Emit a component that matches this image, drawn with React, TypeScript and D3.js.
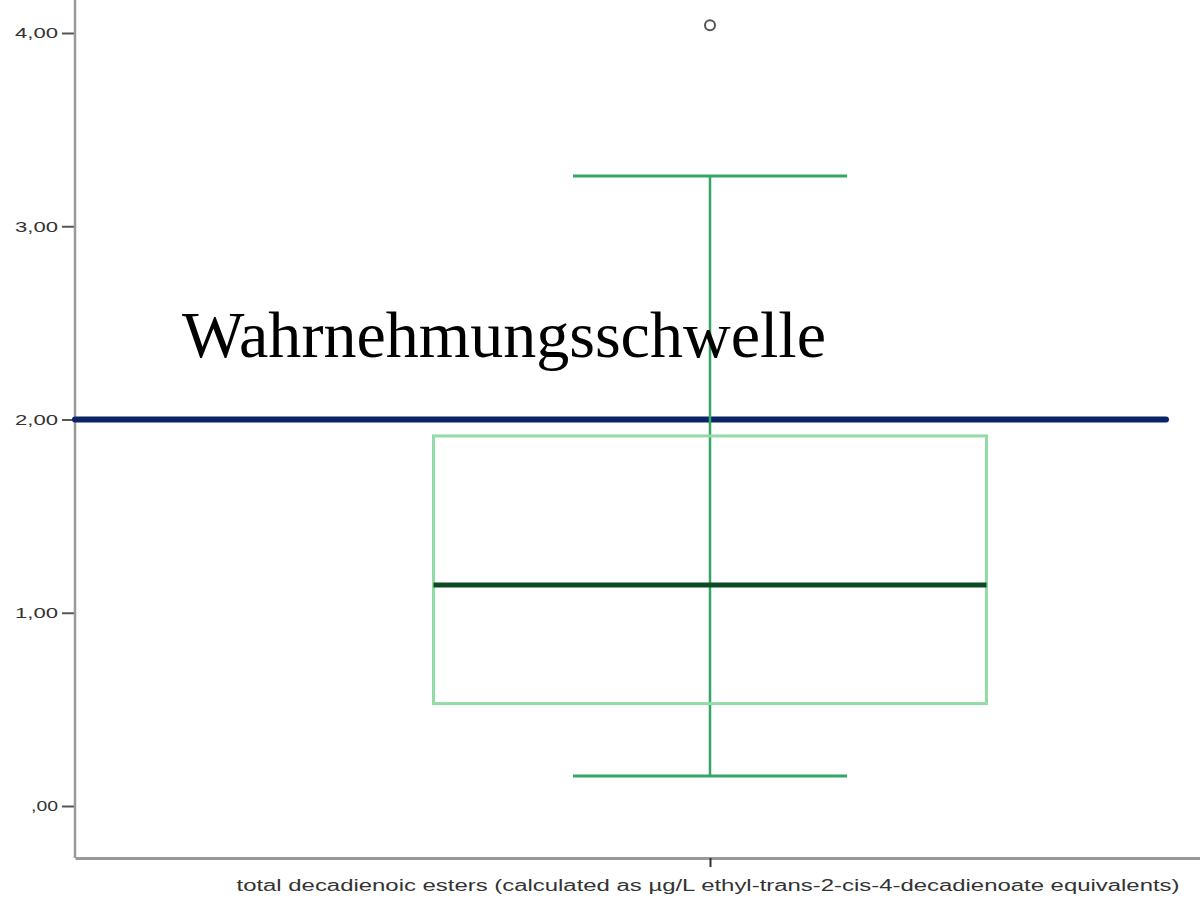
import React, { useEffect, useRef } from 'react';
import * as d3 from 'd3';

// data
const categories = ['total decadienoic esters'];
const boxStats = [{ min: 0.155, q1: 0.53, median: 1.143, q3: 1.915, max: 3.26 }];
const outliers = [[4.04]];
const yTicks = [0, 1, 2, 3, 4];
const threshold = 2.0;
const thresholdLabel = 'Wahrnehmungsschwelle';
const xLabel = 'total decadienoic esters (calculated as µg/L ethyl-trans-2-cis-4-decadienoate equivalents)';

const fmt = (v: number) => (v === 0 ? ',00' : d3.format('.2f')(v).replace('.', ','));

export default function App() {
  const svgRef = useRef<SVGSVGElement>(null);

  useEffect(() => {
    if (!svgRef.current) return;
    const svg = d3.select(svgRef.current);
    svg.selectAll('*').remove();

    const width = 1200;
    const height = 915;
    const axisX = 75;
    const axisBottom = 858;

    svg.attr('width', width).attr('height', height);

    const y = d3.scaleLinear().domain([0, 4]).range([806, 33]);
    const x = d3.scalePoint<string>().domain(categories).range([axisX, 1345]);

    const boxWidth = 553;
    const capWidth = 274;

    // y axis
    const yAxis = svg.append('g')
      .attr('transform', `translate(${axisX},0)`)
      .call(d3.axisLeft(y).tickValues(yTicks).tickFormat(d => fmt(+d)).tickSize(13).tickPadding(4).tickSizeOuter(0));
    yAxis.select('.domain').remove();
    yAxis.selectAll('.tick line').attr('stroke', '#555').attr('stroke-width', 2);
    yAxis.selectAll<SVGTextElement, number>('.tick text')
      .attr('fill', '#333')
      .style('font-family', '"Liberation Sans", Arial, sans-serif')
      .style('font-size', '15px')
      .attr('textLength', d => (d === 0 ? 27 : 43))
      .attr('lengthAdjust', 'spacingAndGlyphs');

    svg.append('line')
      .attr('x1', axisX).attr('x2', axisX)
      .attr('y1', 0).attr('y2', axisBottom)
      .attr('stroke', '#999').attr('stroke-width', 2.5);

    // x axis
    const xAxis = svg.append('g')
      .attr('transform', `translate(0,${axisBottom})`)
      .call(d3.axisBottom(x).tickFormat(() => '').tickSize(9).tickSizeOuter(0));
    xAxis.select('.domain').attr('stroke', '#999').attr('stroke-width', 3);
    xAxis.selectAll('.tick line').attr('stroke', '#333').attr('stroke-width', 2);

    svg.append('text')
      .attr('x', x(categories[0])! - 2)
      .attr('y', 891)
      .attr('text-anchor', 'middle')
      .attr('fill', '#333')
      .style('font-family', '"Liberation Sans", Arial, sans-serif')
      .style('font-size', '16px')
      .attr('textLength', 943)
      .attr('lengthAdjust', 'spacingAndGlyphs')
      .text(xLabel);

    // threshold line (drawn under the box plot)
    svg.append('line')
      .attr('x1', axisX).attr('x2', 1166)
      .attr('y1', y(threshold)).attr('y2', y(threshold))
      .attr('stroke', '#0a2466').attr('stroke-width', 6)
      .attr('stroke-linecap', 'round');

    // boxplot
    categories.forEach((cat, i) => {
      const s = boxStats[i];
      const cx = x(cat)!;
      const g = svg.append('g');

      g.append('line')
        .attr('x1', cx).attr('x2', cx)
        .attr('y1', y(s.max)).attr('y2', y(s.min))
        .attr('stroke', '#35a565').attr('stroke-width', 2.5);

      [s.max, s.min].forEach(v => {
        g.append('line')
          .attr('x1', cx - capWidth / 2).attr('x2', cx + capWidth / 2)
          .attr('y1', y(v)).attr('y2', y(v))
          .attr('stroke', '#35a565').attr('stroke-width', 3);
      });

      g.append('rect')
        .attr('x', cx - boxWidth / 2)
        .attr('y', y(s.q3))
        .attr('width', boxWidth)
        .attr('height', y(s.q1) - y(s.q3))
        .attr('fill', 'none')
        .attr('stroke', '#93dba6')
        .attr('stroke-width', 3);

      g.append('line')
        .attr('x1', cx - boxWidth / 2).attr('x2', cx + boxWidth / 2)
        .attr('y1', y(s.median)).attr('y2', y(s.median))
        .attr('stroke', '#0d4a22').attr('stroke-width', 5);

      g.selectAll('.outlier')
        .data(outliers[i])
        .enter()
        .append('circle')
        .attr('class', 'outlier')
        .attr('cx', cx)
        .attr('cy', d => y(d))
        .attr('r', 5)
        .attr('fill', 'none')
        .attr('stroke', '#555')
        .attr('stroke-width', 2);
    });

    svg.append('text')
      .attr('x', 182)
      .attr('y', 357)
      .attr('fill', '#000')
      .style('font-family', '"Liberation Serif", "Times New Roman", serif')
      .style('font-size', '66px')
      .attr('textLength', 644)
      .attr('lengthAdjust', 'spacingAndGlyphs')
      .text(thresholdLabel);
  }, []);

  return (
    <svg ref={svgRef} style={{ position: 'absolute', left: 0, top: 0, display: 'block', background: '#fff' }}></svg>
  );
}
